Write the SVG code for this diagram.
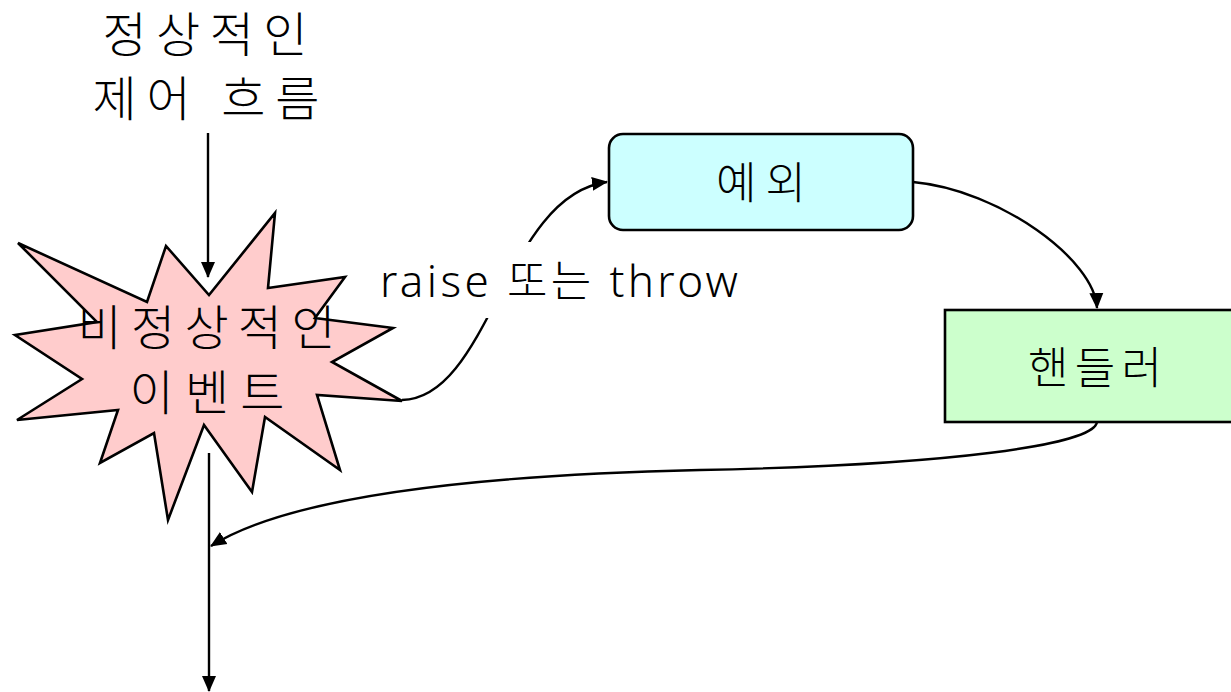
<svg xmlns="http://www.w3.org/2000/svg" width="1231" height="692" viewBox="0 0 1231 692">
<style>
.t{font-family:"Noto Sans CJK KR","Noto Sans",sans-serif;font-weight:300;fill:#000}
.lbl{font-family:"Noto Sans","Noto Sans CJK KR",sans-serif;font-weight:300;fill:#000}
.c{fill:none;stroke:#000;stroke-width:2.4}
.shape{stroke:#000;stroke-width:2.6}
</style>
<defs>
<marker id="ah" markerUnits="userSpaceOnUse" markerWidth="16" markerHeight="16" viewBox="0 0 16 16" refX="15" refY="8" orient="auto">
<path d="M0,1 L16,8 L0,15 Z" fill="#000"/>
</marker>
</defs>
<rect width="1231" height="692" fill="#fff"/>
<g id="normal-flow">
<text class="t" x="102.5" y="52" font-size="48" textLength="205" lengthAdjust="spacing">정상적인</text>
<text class="t" x="92.5" y="116" font-size="48" textLength="227" lengthAdjust="spacing">제어 흐름</text>
</g>
<g id="abnormal-event">
<polygon class="shape" fill="#ffcccc" points="18,243 147,302 166,246 209,295 275,213 268,288 345,277 315,318 393,328 332,362 402,401 317,395 340,470 265,417 252,492 204,425 168,520 154,433 100,463 118,410 17,420 82,379 15,335 97,322"/>
<text class="t" x="77.5" y="345" font-size="48" textLength="258" lengthAdjust="spacing">비정상적인</text>
<text class="t" x="129.5" y="410" font-size="48" textLength="155" lengthAdjust="spacing">이벤트</text>
</g>
<g id="exception">
<rect class="shape" x="609" y="134" width="304" height="96" rx="14" fill="#ccffff"/>
<text class="t" x="716" y="199" font-size="44" textLength="90" lengthAdjust="spacing">예외</text>
</g>
<g id="handler">
<rect class="shape" x="945" y="310" width="292" height="112" fill="#ccffcc"/>
<text class="t" x="1028" y="384" font-size="44" textLength="134" lengthAdjust="spacing">핸들러</text>
</g>
<g id="connectors">
<line class="c" x1="208" y1="133" x2="208" y2="277" marker-end="url(#ah)"/>
<line class="c" x1="209" y1="453" x2="209" y2="691" marker-end="url(#ah)"/>
<path class="c" d="M402,400 C490,398 505,195 607,182" marker-end="url(#ah)"/>
<path class="c" d="M913,182 C1000,190 1095,260 1097,308" marker-end="url(#ah)"/>
<path class="c" d="M1097,422 C1094,445 950,465 700,470 C520,474 300,490 211,546" marker-end="url(#ah)"/>
<rect x="380" y="242" width="362" height="76" fill="#fff"/>
<text class="lbl" x="380" y="297" font-size="44" textLength="358" lengthAdjust="spacing">raise 또는 throw</text>
</g>
</svg>
